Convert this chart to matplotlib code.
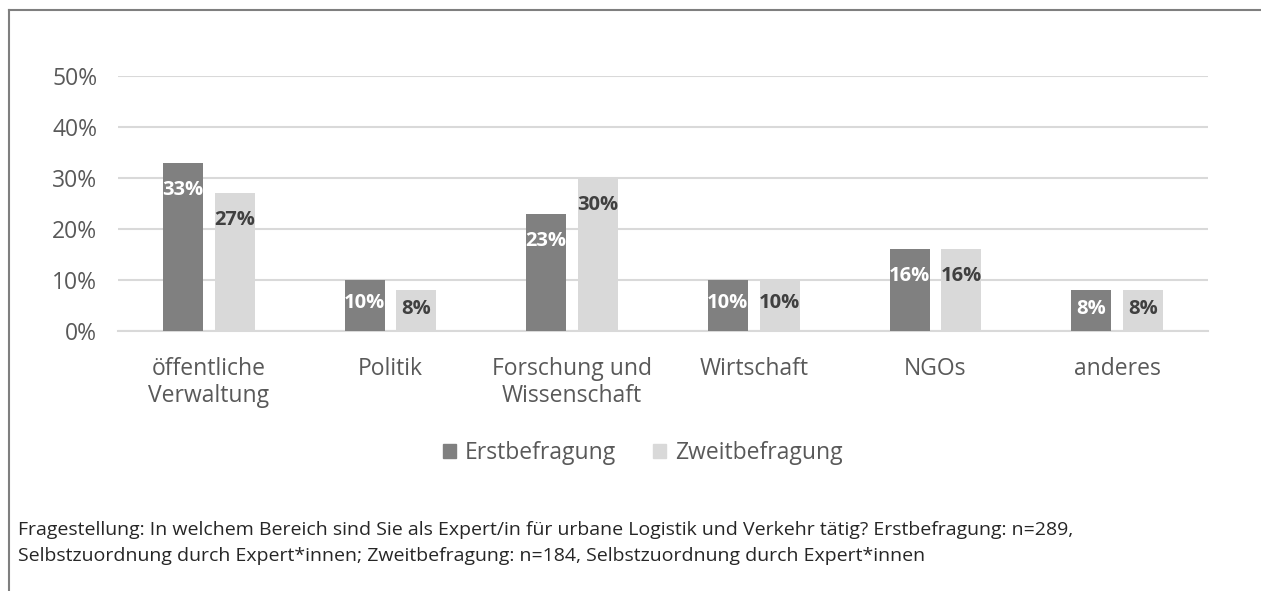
import matplotlib.pyplot as plt
import numpy as np
from matplotlib.lines import Line2D
from matplotlib.patches import Patch

# Daten
kategorien = ["öffentliche\nVerwaltung", "Politik", "Forschung und\nWissenschaft",
              "Wirtschaft", "NGOs", "anderes"]
erstbefragung = [33, 10, 23, 10, 16, 8]
zweitbefragung = [27, 8, 30, 10, 16, 8]
y_ticks = [0, 10, 20, 30, 40, 50]
fussnote = ("Fragestellung: In welchem Bereich sind Sie als Expert/in für urbane Logistik und Verkehr tätig? "
            "Erstbefragung: n=289,\nSelbstzuordnung durch Expert*innen; Zweitbefragung: n=184, "
            "Selbstzuordnung durch Expert*innen")

plt.rcParams['font.family'] = ['Open Sans', 'DejaVu Sans']

W, H = 1261, 591
fig = plt.figure(figsize=(W / 100, H / 100), dpi=100)
ax = fig.add_axes([118 / W, 1 - 331 / H, (1208 - 118) / W, (331 - 76) / H])

x = np.arange(len(kategorien))
breite = 0.22
versatz = 0.143
dunkel = "#808080"
hell = "#d9d9d9"

ax.bar(x - versatz, erstbefragung, breite, color=dunkel, zorder=3)
ax.bar(x + versatz, zweitbefragung, breite, color=hell, zorder=3)

# Beschriftungen innerhalb der Balken
for xi, v in zip(x, erstbefragung):
    ax.text(xi - versatz, max(v - 5.3, v * 0.55), f"{v}%", ha="center", va="center",
            color="white", fontsize=14.5, fontweight="bold", zorder=4)
for xi, v in zip(x, zweitbefragung):
    ax.text(xi + versatz, max(v - 5.3, v * 0.55), f"{v}%", ha="center", va="center",
            color="#404040", fontsize=14.5, fontweight="bold", zorder=4)

ax.set_xlim(-0.5, len(kategorien) - 0.5)
ax.set_ylim(0, 50)
ax.set_yticks(y_ticks)
ax.set_yticklabels([f"{t}%" for t in y_ticks])
ax.set_xticks(x)
ax.set_xticklabels(kategorien, linespacing=1.15)
ax.yaxis.grid(True, color="#d9d9d9", linewidth=1.5, zorder=0)
ax.set_axisbelow(True)
for s in ["top", "right", "left"]:
    ax.spines[s].set_visible(False)
ax.spines["bottom"].set_color("#d9d9d9")
ax.spines["bottom"].set_linewidth(1.5)
ax.tick_params(axis="both", length=0, labelsize=16.5, colors="#595959")
ax.tick_params(axis="y", pad=15)
ax.tick_params(axis="x", pad=19)

# Legende
handles = [Patch(color=dunkel, label="Erstbefragung"), Patch(color=hell, label="Zweitbefragung")]
fig.legend(handles=handles, loc="center", bbox_to_anchor=(643 / W, 1 - 453 / H), ncol=2,
           frameon=False, fontsize=16.5, handlelength=0.55, handleheight=0.55,
           handletextpad=0.4, columnspacing=1.6, labelcolor="#595959")

# Fußnote
fig.text(18 / W, 1 - 543 / H, fussnote, fontsize=14, color="#262626",
         va="center", ha="left", linespacing=1.62)

# Rahmen
fig.add_artist(Line2D([9 / W, 1], [1 - 10 / H, 1 - 10 / H], color="#7f7f7f", linewidth=1.5))
fig.add_artist(Line2D([9 / W, 9 / W], [0, 1 - 10 / H], color="#7f7f7f", linewidth=1.5))

fig.savefig("out.png", dpi=100)
